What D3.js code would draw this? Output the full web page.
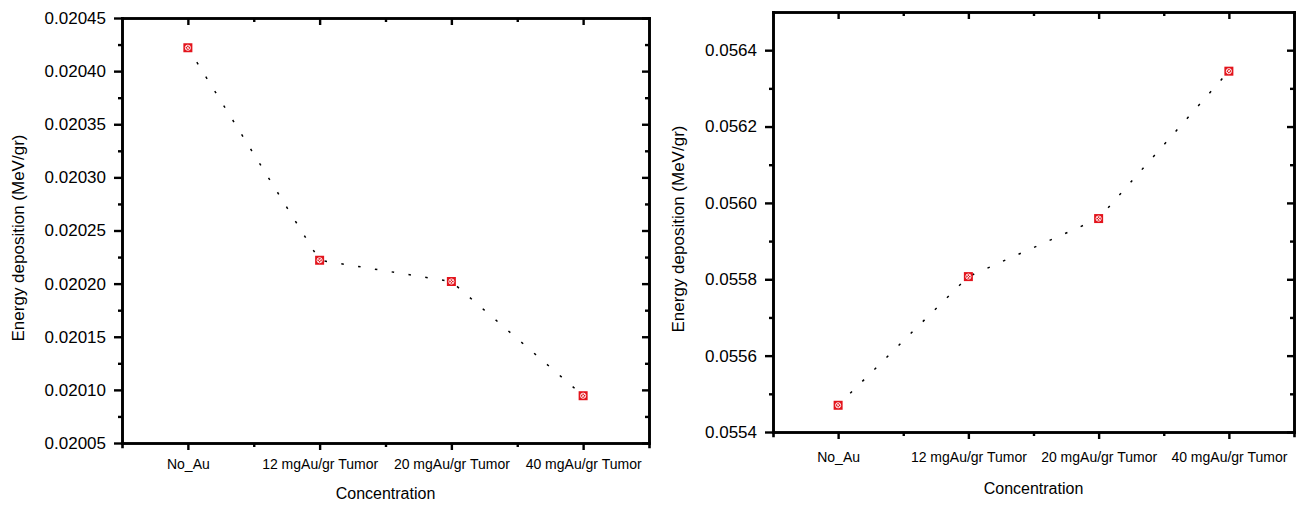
<!DOCTYPE html>
<html>
<head>
<meta charset="utf-8">
<script src="https://cdn.jsdelivr.net/npm/d3@7"></script>
<style>
  body { margin: 0; background: #fff; }
  text { font-family: "Liberation Sans", Arial, sans-serif; fill: #000; }
</style>
</head>
<body>
<div id="chart"></div>
<script>
// categories along x
var categories = ["No_Au", "12 mgAu/gr Tumor", "20 mgAu/gr Tumor", "40 mgAu/gr Tumor"];
// energy deposition values
var leftValues = [0.020422, 0.020222, 0.020202, 0.0200945];
var rightValues = [0.055470, 0.055807, 0.055959, 0.056345];
// y tick labels
var leftTicks = [0.02005, 0.02010, 0.02015, 0.02020, 0.02025, 0.02030, 0.02035, 0.02040, 0.02045];
var rightTicks = [0.0554, 0.0556, 0.0558, 0.0560, 0.0562, 0.0564];

var svg = d3.select("#chart").append("svg")
  .attr("width", 1301)
  .attr("height", 506);

function drawPanel(p) {
  var g = svg.append("g");

  var x = d3.scaleLinear().domain([0.5, categories.length + 0.5]).range([p.x0, p.x1]);
  var y = d3.scaleLinear().domain(p.domain).range([p.y0, p.y1]);

  var catPos = categories.map(function(d, i) { return i + 1; });
  var halfPos = [1.5, 2.5, 3.5];
  var minorY = [];
  for (var i = 0; i < p.ticks.length; i++) {
    var m = p.ticks[i] + p.step / 2;
    if (m < p.domain[1] - 1e-12) minorY.push(m);
  }

  // bottom axis (major ticks with labels, minor ticks)
  var bottom = g.append("g").attr("transform", "translate(0," + p.y0 + ")")
    .call(d3.axisBottom(x).tickValues(catPos).tickSizeInner(7).tickSizeOuter(0)
      .tickPadding(p.xPad).tickFormat(function(d) { return categories[d - 1]; }));
  g.append("g").attr("transform", "translate(0," + p.y0 + ")")
    .call(d3.axisBottom(x).tickValues(halfPos).tickSize(4).tickFormat(""));

  // top axis mirrored, ticks inward
  g.append("g").attr("transform", "translate(0," + p.y1 + ")")
    .call(d3.axisTop(x).tickValues(catPos).tickSizeInner(-7).tickSizeOuter(0).tickFormat(""));
  g.append("g").attr("transform", "translate(0," + p.y1 + ")")
    .call(d3.axisTop(x).tickValues(halfPos).tickSizeInner(-4).tickSizeOuter(0).tickFormat(""));

  // left axis
  g.append("g").attr("transform", "translate(" + p.x0 + ",0)")
    .call(d3.axisLeft(y).tickValues(p.ticks).tickSizeInner(8).tickSizeOuter(0)
      .tickPadding(8).tickFormat(d3.format(p.fmt)))
    .selectAll("text").style("font-size", "17px");
  g.append("g").attr("transform", "translate(" + p.x0 + ",0)")
    .call(d3.axisLeft(y).tickValues(minorY).tickSizeInner(4).tickSizeOuter(0).tickFormat(""));

  // right axis mirrored, ticks inward
  g.append("g").attr("transform", "translate(" + p.x1 + ",0)")
    .call(d3.axisRight(y).tickValues(p.ticks).tickSizeInner(-7).tickSizeOuter(0).tickFormat(""));
  g.append("g").attr("transform", "translate(" + p.x1 + ",0)")
    .call(d3.axisRight(y).tickValues(minorY).tickSizeInner(-4).tickSizeOuter(0).tickFormat(""));

  g.selectAll(".domain").attr("stroke", "#000").attr("stroke-width", 2.6).attr("stroke-linecap", "square");
  g.selectAll(".tick line").attr("stroke", "#000").attr("stroke-width", 2.4);
  bottom.selectAll("text").style("font-size", "14px");

  // dotted connecting line
  var line = d3.line()
    .x(function(d, i) { return x(i + 1); })
    .y(function(d) { return y(d); });
  g.append("path")
    .datum(p.values)
    .attr("d", line)
    .attr("fill", "none")
    .attr("stroke", "#000")
    .attr("stroke-width", 1.5)
    .attr("stroke-dasharray", "2.5,14.5");

  // markers: red square with white crossed circle
  var mk = g.selectAll(".mk").data(p.values).enter().append("g")
    .attr("class", "mk")
    .attr("transform", function(d, i) { return "translate(" + x(i + 1) + "," + y(d) + ")"; });
  mk.append("rect").attr("x", -4.5).attr("y", -4.5).attr("width", 9).attr("height", 9)
    .attr("fill", "#e3141c");
  mk.append("circle").attr("r", 2.6).attr("fill", "none").attr("stroke", "#fff").attr("stroke-width", 0.9);
  mk.append("path").attr("d", "M-1.8,-1.8L1.8,1.8M-1.8,1.8L1.8,-1.8")
    .attr("stroke", "#fff").attr("stroke-width", 0.9);

  // axis titles
  g.append("text")
    .attr("transform", "translate(" + p.ylx + "," + p.yly + ") rotate(-90)")
    .attr("text-anchor", "middle")
    .attr("dy", "0.35em")
    .style("font-size", "17px")
    .text("Energy deposition (MeV/gr)");
  g.append("text")
    .attr("x", (p.x0 + p.x1) / 2)
    .attr("y", p.xly)
    .attr("text-anchor", "middle")
    .style("font-size", "16px")
    .text("Concentration");
}

drawPanel({
  x0: 122, x1: 649, y0: 443, y1: 18,
  domain: [0.02005, 0.02045], ticks: leftTicks, step: 0.00005, fmt: ".5f",
  values: leftValues, xPad: 9, ylx: 18, yly: 238, xly: 499
});

drawPanel({
  x0: 773, x1: 1294, y0: 432, y1: 12,
  domain: [0.0554, 0.0565], ticks: rightTicks, step: 0.0002, fmt: ".4f",
  values: rightValues, xPad: 13, ylx: 678, yly: 229, xly: 494
});
</script>
</body>
</html>
